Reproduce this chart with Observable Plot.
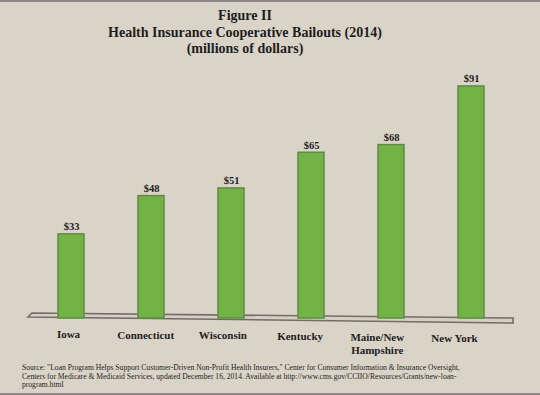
<!DOCTYPE html>
<html>
<head>
<meta charset="utf-8">
<script src="https://cdn.jsdelivr.net/npm/d3@7"></script>
<script src="https://cdn.jsdelivr.net/npm/@observablehq/plot@0.6"></script>
<style>
  html, body { margin: 0; padding: 0; background: #dad3c7; }
  #wrap { position: relative; width: 540px; height: 395px; overflow: hidden; background: #dad3c7;
          box-sizing: border-box; border-top: 2px solid #8d8786; border-bottom: 2px solid #8d8786; }
  #title { position: absolute; left: 0; top: 6px; width: 490px; text-align: center;
           font-family: "Liberation Serif", serif; font-weight: bold; font-size: 14px; line-height: 16.5px; color: #1e1e1e; }
  #chart { position: absolute; left: 0; top: 58px; }
  #chart svg { overflow: visible; }
  #note { position: absolute; left: 22px; top: 362px; font-family: "Liberation Serif", serif;
          font-size: 7.6px; line-height: 8.7px; color: #1e1e1e; white-space: nowrap; }
</style>
</head>
<body>
<div id="wrap">
  <div id="title">Figure II<br>Health Insurance Cooperative Bailouts (2014)<br>(millions of dollars)</div>
  <div id="chart"></div>
  <div id="note">Source: "Loan Program Helps Support Customer-Driven Non-Profit Health Insurers," Center for Consumer Information &amp; Insurance Oversight,<br>Centers for Medicare &amp; Medicaid Services, updated December 16, 2014. Available at http://www.cms.gov/CCIIO/Resources/Grants/new-loan-<br>program.html</div>
</div>
<script>
const states = ["Iowa", "Connecticut", "Wisconsin", "Kentucky", "Maine/New\nHampshire", "New York"];
const bailouts = [33, 48, 51, 65, 68, 91];

const data = states.map((s, i) => ({state: s, value: bailouts[i]}));

// 3D-ish floor drawn from the scales
function floor(index, scales, values, dims) {
  const r0 = dims.marginLeft, r1 = dims.width - dims.marginRight;
  const y0 = scales.y(0);
  const xl = r0 - 28, xr = r1 + 27;
  const g = d3.create("svg:g");
  g.append("polygon")
    .attr("points", [[xl + 4, y0 - 5], [xr, y0], [xr, y0 + 5], [xl, y0 - 1]].map(p => p.join(",")).join(" "))
    .attr("fill", "#d6cfc2")
    .attr("stroke", "#726d69")
    .attr("stroke-width", 1.6);
  return g.node();
}

const plot = Plot.plot({
  width: 540,
  height: 300,
  marginLeft: 56,
  marginRight: 54,
  marginTop: 3,
  marginBottom: 42,
  style: {background: "transparent", fontFamily: "Liberation Serif, serif", overflow: "visible"},
  x: {domain: states, paddingInner: 0.68, paddingOuter: 0, axis: null},
  y: {domain: [0, 100], axis: null},
  marks: [
    floor,
    Plot.barY(data, {x: "state", y: "value", fill: "#73b346", stroke: "#5f8c45", strokeWidth: 1.5}),
    Plot.text(data, {x: "state", y: "value", text: d => "$" + d.value, dy: -4, lineAnchor: "bottom",
      fontSize: 10.5, fontWeight: "bold", fill: "#1e1e1e"}),
    Plot.text(data, {x: "state", y: 0, text: "state", dy: 10, lineAnchor: "top", lineHeight: 1.2,
      fontSize: 11, fontWeight: "bold", fill: "#1e1e1e", className: "cat-label"})
  ]
});
document.getElementById("chart").appendChild(plot);

// labels sit on the slanted floor, drifting left and down
d3.select(plot).selectAll(".cat-label text").each(function(d, i) {
  const t = d3.select(this);
  const tr = t.attr("transform") || "";
  t.attr("transform", tr + ` translate(${-3 - 2.8 * i},${0.8 * i})`);
});
</script>
</body>
</html>
